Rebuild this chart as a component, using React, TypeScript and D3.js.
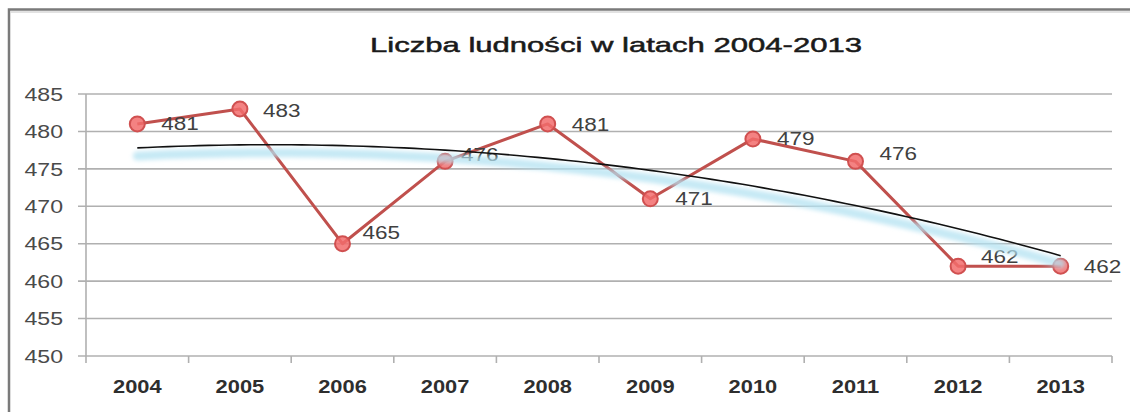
import React from "react";
import * as d3 from "d3";

const years = ["2004", "2005", "2006", "2007", "2008", "2009", "2010", "2011", "2012", "2013"];
const population = [481, 483, 465, 476, 481, 471, 479, 476, 462, 462];
const yTicks = [450, 455, 460, 465, 470, 475, 480, 485];
const title = "Liczba ludności w latach 2004-2013";
// label nudges (styling, px)
const labelDx = [24, 23, 20, 16, 24, 25, 24, 24, 23, 23];
const labelDy = [0, 2, -11, -7, 1, 0, 0, -8, -10, 0];

const W = 1130;
const H = 412;
const SX = 1.25;

function quadFit(ys: number[]) {
  const xs = ys.map((_, i) => i);
  const mx = d3.mean(xs)!;
  const my = d3.mean(ys)!;
  const u = xs.map((x) => x - mx);
  const m2 = d3.mean(u.map((v) => v * v))!;
  const p2 = u.map((v) => v * v - m2);
  const b1 = d3.sum(u.map((v, i) => v * (ys[i] - my))) / d3.sum(u.map((v) => v * v));
  const b2 = d3.sum(p2.map((v, i) => v * (ys[i] - my))) / d3.sum(p2.map((v) => v * v));
  return (x: number) => my + b1 * (x - mx) + b2 * ((x - mx) * (x - mx) - m2);
}

export default function App() {
  const left = 86;
  const right = 1112;
  const top = 94;
  const bottom = 356;
  const x = d3.scaleBand().domain(years).range([left, right]);
  const y = d3.scaleLinear().domain([450, 485]).range([bottom, top]);
  const cx = (i: number) => x(years[i])! + x.bandwidth() / 2;

  const line = d3
    .line<number>()
    .x((_, i) => cx(i))
    .y((d) => y(d));

  const f = quadFit(population);
  const trendPts = d3.range(0, 9.0001, 0.1).map((t) => [left + x.bandwidth() * (t + 0.5), y(f(t))] as [number, number]);
  const trendPath = d3.line()(trendPts)!;

  const boundaries = d3.range(years.length + 1).map((i) => left + i * x.bandwidth());

  return (
    <svg width={W} height={H} style={{ position: "absolute", left: 0, top: 0, background: "#fff" }}>
      <defs>
        <filter id="glow" x="-5%" y="-50%" width="110%" height="200%">
          <feGaussianBlur stdDeviation="2.2" />
        </filter>
      </defs>
      <rect x={0} y={0} width={W} height={H} fill="#fff" />
      <rect x={9} y={9.5} width={1300} height={600} fill="none" stroke="#7a7a7a" strokeWidth={2.5} />
      <line x1={10} x2={W} y1={12} y2={12} stroke="#d8d8d8" strokeWidth={1.5} />

      <text
        x={616}
        y={52}
        textAnchor="middle"
        fontFamily="Liberation Sans, Arial, sans-serif"
        fontSize={21}
        fill="#1a1a1a"
        stroke="#1a1a1a"
        strokeWidth={0.5}
        textLength={492}
        lengthAdjust="spacingAndGlyphs"
      >
        {title}
      </text>

      {yTicks.map((t) => (
        <g key={t}>
          <line x1={78} x2={right} y1={y(t)} y2={y(t)} stroke="#b0b0b0" strokeWidth={1.6} />
          <text
            transform={`translate(63,${y(t)}) scale(${SX},1)`}
            textAnchor="end"
            dy="0.36em"
            fontFamily="Liberation Sans, Arial, sans-serif"
            fontSize={18.5}
            fill="#4a4a4a"
          >
            {t}
          </text>
        </g>
      ))}
      <line x1={left} x2={left} y1={top} y2={bottom} stroke="#b0b0b0" strokeWidth={1.6} />
      {boundaries.map((bx, i) => (
        <line key={i} x1={bx} x2={bx} y1={bottom} y2={bottom + 7} stroke="#b0b0b0" strokeWidth={1.6} />
      ))}
      {years.map((yr, i) => (
        <text
          key={yr}
          transform={`translate(${cx(i)},387) scale(${SX},1)`}
          textAnchor="middle"
          dy="0.36em"
          fontFamily="Liberation Sans, Arial, sans-serif"
          fontWeight="bold"
          fontSize={17.5}
          fill="#2e2e2e"
        >
          {yr}
        </text>
      ))}

      <path d={line(population)!} fill="none" stroke="#c0504d" strokeWidth={3} strokeLinejoin="round" />
      {population.map((v, i) => (
        <circle key={i} cx={cx(i)} cy={y(v)} r={7.5} fill="#f26c6c" fillOpacity={0.85} stroke="#d05050" strokeWidth={2} />
      ))}
      {population.map((v, i) => (
        <text
          key={i}
          transform={`translate(${cx(i) + labelDx[i]},${y(v) + labelDy[i]}) scale(${SX},1)`}
          dy="0.36em"
          fontFamily="Liberation Sans, Arial, sans-serif"
          fontSize={18}
          fill="#404040"
        >
          {v}
        </text>
      ))}

      <path
        d={trendPath}
        transform="translate(0,8)"
        fill="none"
        stroke="#b3e1f2"
        strokeWidth={9}
        strokeOpacity={0.75}
        strokeLinecap="round"
        filter="url(#glow)"
      />
      <path d={trendPath} fill="none" stroke="#111" strokeWidth={1.6} />
    </svg>
  );
}
